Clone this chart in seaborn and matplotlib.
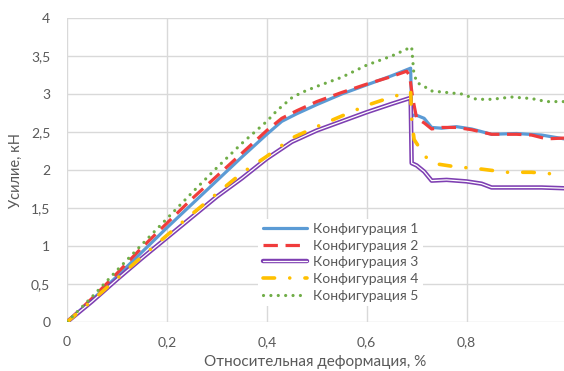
import pandas as pd
import matplotlib.pyplot as plt
import matplotlib.patheffects as pe
from matplotlib.ticker import FuncFormatter, MultipleLocator
import seaborn as sns

sns.set_theme(style="white")
plt.rcParams['font.family'] = ['Lato', 'Open Sans', 'DejaVu Sans']

labels = ["Конфигурация 1", "Конфигурация 2", "Конфигурация 3",
          "Конфигурация 4", "Конфигурация 5"]

x1 = [0, 0.05, 0.1, 0.15, 0.2, 0.25, 0.3, 0.35, 0.4, 0.43, 0.46, 0.5, 0.55, 0.6, 0.65,
      0.688, 0.69, 0.70, 0.715, 0.73, 0.75, 0.78, 0.81, 0.85, 0.9, 0.95, 0.995]
y1 = [0, 0.29, 0.6, 0.92, 1.24, 1.55, 1.86, 2.17, 2.47, 2.64, 2.74, 2.86, 3.0, 3.12, 3.24,
      3.34, 2.72, 2.72, 2.68, 2.56, 2.55, 2.57, 2.54, 2.47, 2.48, 2.46, 2.41]

x2 = [0, 0.05, 0.1, 0.15, 0.2, 0.25, 0.3, 0.35, 0.4, 0.43, 0.46, 0.5, 0.55, 0.6, 0.65,
      0.68, 0.686, 0.692, 0.70, 0.715, 0.73, 0.75, 0.78, 0.81, 0.85, 0.9, 0.93, 0.96, 0.995]
y2 = [0, 0.31, 0.64, 0.98, 1.3, 1.62, 1.92, 2.22, 2.52, 2.68, 2.78, 2.9, 3.02, 3.13, 3.23,
      3.3, 3.24, 2.95, 2.68, 2.62, 2.54, 2.56, 2.56, 2.53, 2.47, 2.47, 2.46, 2.41, 2.42]

x3 = [0, 0.05, 0.1, 0.15, 0.2, 0.25, 0.3, 0.35, 0.4, 0.45, 0.5, 0.55, 0.6, 0.65,
      0.688, 0.69, 0.70, 0.715, 0.73, 0.76, 0.8, 0.83, 0.85, 0.9, 0.95, 0.995]
y3 = [0, 0.27, 0.56, 0.84, 1.11, 1.38, 1.65, 1.89, 2.15, 2.37, 2.52, 2.64, 2.76, 2.87,
      2.95, 2.09, 2.06, 1.98, 1.86, 1.87, 1.85, 1.82, 1.77, 1.77, 1.77, 1.76]

x4 = [0, 0.05, 0.1, 0.15, 0.2, 0.25, 0.3, 0.35, 0.4, 0.45, 0.5, 0.55, 0.6, 0.65,
      0.688, 0.69, 0.695, 0.705, 0.72, 0.74, 0.78, 0.82, 0.88, 0.93, 0.97, 0.995]
y4 = [0, 0.28, 0.57, 0.86, 1.14, 1.42, 1.69, 1.96, 2.18, 2.42, 2.57, 2.71, 2.85, 2.96,
      3.03, 2.66, 2.4, 2.3, 2.16, 2.08, 2.04, 2.02, 1.97, 1.97, 1.95, 1.93]

x5 = [0, 0.05, 0.1, 0.15, 0.2, 0.25, 0.3, 0.35, 0.4, 0.42, 0.45, 0.47, 0.5, 0.55, 0.6, 0.65,
      0.69, 0.694, 0.70, 0.71, 0.73, 0.76, 0.79, 0.82, 0.85, 0.89, 0.93, 0.96, 0.995]
y5 = [0, 0.33, 0.68, 1.02, 1.36, 1.7, 2.03, 2.35, 2.64, 2.78, 2.95, 3.02, 3.1, 3.22, 3.38, 3.5,
      3.62, 3.3, 3.15, 3.12, 3.04, 3.02, 3.0, 2.93, 2.93, 2.96, 2.94, 2.9, 2.9]

series = [(x1, y1), (x2, y2), (x3, y3), (x4, y4), (x5, y5)]
df = pd.concat([pd.DataFrame({"x": xs, "y": ys, "config": lab})
                for (xs, ys), lab in zip(series, labels)], ignore_index=True)

TXT = "#595959"
GRID = "#D9D9D9"

fig = plt.figure(figsize=(5.64, 3.71), dpi=100)
ax = fig.add_axes([67 / 564, 1 - 322 / 371, 1 - 67 / 564, 304 / 371])

# стилі ліній як в Excel
styles = {
    labels[0]: dict(color="#5B9BD5", linewidth=2.3, solid_capstyle="round"),
    labels[1]: dict(color="#F03C3C", linewidth=2.3, dashes=(4.5, 2.4)),
    labels[2]: dict(color="white", linewidth=0.9,
                    path_effects=[pe.Stroke(linewidth=3.2, foreground="#7E3FB2"), pe.Normal()]),
    labels[3]: dict(color="#FFC000", linewidth=2.6, dashes=(3.2, 4.2, 0.01, 4.2),
                    dash_capstyle="round"),
    labels[4]: dict(color="#70AD47", linewidth=2.3, dashes=(0.01, 2.3),
                    dash_capstyle="round"),
}

for lab in labels:
    sub = df[df["config"] == lab]
    sns.lineplot(data=sub, x="x", y="y", ax=ax, sort=False, estimator=None,
                 label=lab, **styles[lab])

ax.set_xlim(0, 0.995)
ax.set_ylim(0, 4)
ax.xaxis.set_major_locator(MultipleLocator(0.2))
ax.yaxis.set_major_locator(MultipleLocator(0.5))
fmt = FuncFormatter(lambda v, p: f"{v:g}".replace(".", ","))
ax.xaxis.set_major_formatter(fmt)
ax.yaxis.set_major_formatter(fmt)

for s in ax.spines.values():
    s.set_visible(False)
ax.grid(True, color=GRID, linewidth=1.0)
ax.set_axisbelow(True)
ax.tick_params(axis="both", length=0, colors=TXT, labelsize=10)
ax.tick_params(axis="y", pad=12)
ax.tick_params(axis="x", pad=10)

ax.set_xlabel("Относительная деформация, %", fontsize=11, color=TXT, labelpad=5)
ax.set_ylabel("Усилие, кН", fontsize=10.5, color=TXT, labelpad=6)

leg = ax.legend(loc="upper left", bbox_to_anchor=(0.385, 0.34), frameon=True,
                fontsize=10, handlelength=3.2, handletextpad=0.45, labelspacing=0.34,
                borderpad=0.3, borderaxespad=0)
leg.get_frame().set_facecolor("white")
leg.get_frame().set_edgecolor("none")
leg.get_frame().set_alpha(1)
for t in leg.get_texts():
    t.set_color(TXT)

fig.savefig("out.png", dpi=100)
